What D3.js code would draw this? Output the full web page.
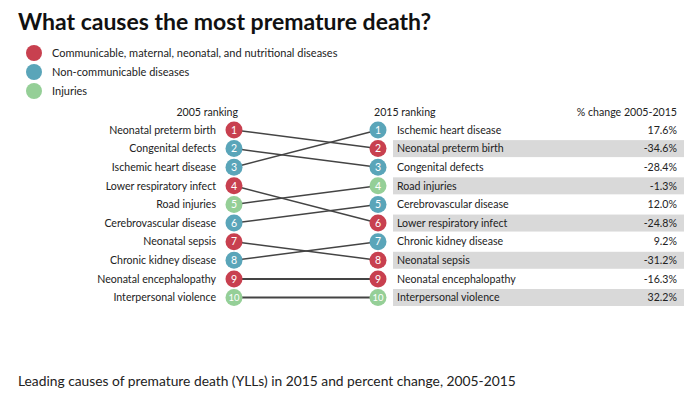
<!DOCTYPE html>
<html><head><meta charset="utf-8">
<script src="https://cdn.jsdelivr.net/npm/d3@7"></script>
<style>body{margin:0;background:#fff;} svg{display:block;font-family:Lato,"Open Sans",sans-serif;}</style>
</head><body>
<svg id="c" width="700" height="394"></svg>
<script>
const categories = ["Communicable, maternal, neonatal, and nutritional diseases","Non-communicable diseases","Injuries"];
const categoryColors = ["#c8404f","#5aa5b9","#95cf97"];
const causes = ["Neonatal preterm birth","Congenital defects","Ischemic heart disease","Lower respiratory infect","Road injuries","Cerebrovascular disease","Neonatal sepsis","Chronic kidney disease","Neonatal encephalopathy","Interpersonal violence"];
const causeCategory = [0,1,1,0,2,1,0,1,0,2];
const rank2005 = [1,2,3,4,5,6,7,8,9,10];
const rank2015 = [2,3,1,6,4,5,8,7,9,10];
const pctChange = [-34.6,-28.4,17.6,-24.8,-1.3,12.0,-31.2,9.2,-16.3,32.2];

const data = causes.map((c,i)=>({name:c,cat:causeCategory[i],r05:rank2005[i],r15:rank2015[i],pct:pctChange[i]}));
const svg = d3.select("#c");
const color = d3.scaleOrdinal().domain([0,1,2]).range(categoryColors);
const y = d3.scaleLinear().domain([1,10]).range([130,297.5]);
const xL = 234, xR = 378;
const fs = 10.6;

svg.append("text").attr("x",18).attr("y",30).attr("font-size",23).attr("font-weight",700).attr("fill","#111")
  .text("What causes the most premature death?");

const leg = svg.append("g");
categories.forEach((c,i)=>{
  leg.append("circle").attr("cx",34).attr("cy",53+i*19).attr("r",8).attr("fill",categoryColors[i]);
  leg.append("text").attr("x",52).attr("y",56.5+i*19).attr("font-size",11).attr("fill","#222").text(c);
});

svg.append("text").attr("x",238).attr("y",116).attr("text-anchor","end").attr("font-size",fs).attr("fill","#222").text("2005 ranking");
svg.append("text").attr("x",374).attr("y",116).attr("font-size",fs).attr("fill","#222").text("2015 ranking");
svg.append("text").attr("x",677).attr("y",116).attr("text-anchor","end").attr("font-size",fs).attr("fill","#222").text("% change 2005-2015");

// bands
const sorted15 = data.slice().sort((a,b)=>a.r15-b.r15);
svg.append("g").selectAll("rect").data(sorted15.filter(d=>d.r15%2===0)).join("rect")
  .attr("x",393).attr("width",291).attr("y",d=>y(d.r15)-8.5).attr("height",17).attr("fill","#d9d9d9");

// lines
svg.append("g").selectAll("line").data(data).join("line")
  .attr("x1",xL).attr("x2",xR).attr("y1",d=>y(d.r05)).attr("y2",d=>y(d.r15))
  .attr("stroke","#444").attr("stroke-width",d=>d.r05===d.r15?2:1.5);

// left labels
svg.append("g").selectAll("text").data(data).join("text")
  .attr("x",216).attr("y",d=>y(d.r05)+3.7).attr("text-anchor","end").attr("font-size",fs).attr("fill","#222").text(d=>d.name);

// circles
function nodes(x,key){
  const g = svg.append("g").selectAll("g").data(data).join("g").attr("transform",d=>`translate(${x},${y(d[key])})`);
  g.append("circle").attr("r",8.5).attr("fill",d=>color(d.cat));
  g.append("text").attr("text-anchor","middle").attr("y",3.7).attr("font-size",d=>d[key]===10?9.5:10.5).attr("fill","#fff").text(d=>d[key]);
}
nodes(xL,"r05"); nodes(xR,"r15");

// right labels
svg.append("g").selectAll("text").data(data).join("text")
  .attr("x",397).attr("y",d=>y(d.r15)+3.7).attr("font-size",fs).attr("fill","#222").text(d=>d.name);
svg.append("g").selectAll("text").data(data).join("text")
  .attr("x",677).attr("y",d=>y(d.r15)+3.7).attr("text-anchor","end").attr("font-size",fs).attr("fill","#222")
  .text(d=>d.pct.toFixed(1)+"%");

svg.append("text").attr("x",18).attr("y",386).attr("font-size",13.8).attr("fill","#222")
  .text("Leading causes of premature death (YLLs) in 2015 and percent change, 2005-2015");
</script>
</body></html>
